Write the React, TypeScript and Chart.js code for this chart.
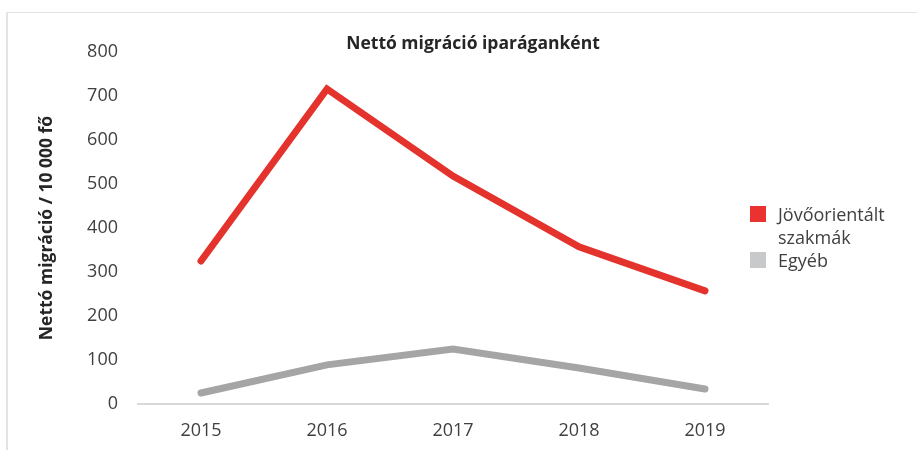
import React, { useEffect, useRef } from "react";
import { Chart, registerables } from "chart.js";

Chart.register(...registerables);

const TITLE = "Nettó migráció iparáganként";
const Y_TITLE = "Nettó migráció / 10 000 fő";
const YEARS = ["2015", "2016", "2017", "2018", "2019"];
const SERIES_NAMES = ["Jövőorientált szakmák", "Egyéb"];
const FUTURE = [325, 716, 518, 357, 257];
const OTHER = [25, 89, 125, 82, 34];
const LINE_COLORS = ["#e4322c", "#a5a5a5"];
const SWATCH_COLORS = ["#ea3331", "#c8c9cb"];

const FONT = "'Open Sans', 'DejaVu Sans', sans-serif";

export default function App() {
  const ref = useRef<HTMLCanvasElement | null>(null);

  useEffect(() => {
    if (!ref.current) return;
    const chart = new Chart(ref.current, {
      type: "line",
      data: {
        labels: YEARS,
        datasets: [
          {
            label: SERIES_NAMES[0],
            data: FUTURE,
            borderColor: LINE_COLORS[0],
            backgroundColor: LINE_COLORS[0],
            borderWidth: 7,
            borderCapStyle: "round",
            borderJoinStyle: "miter",
            pointRadius: 0,
            tension: 0,
          },
          {
            label: SERIES_NAMES[1],
            data: OTHER,
            borderColor: LINE_COLORS[1],
            backgroundColor: LINE_COLORS[1],
            borderWidth: 7,
            borderCapStyle: "round",
            borderJoinStyle: "miter",
            pointRadius: 0,
            tension: 0,
          },
        ],
      },
      options: {
        responsive: false,
        animation: false,
        layout: { padding: { left: 30, right: 149, top: 52, bottom: 10 } },
        plugins: {
          legend: { display: false },
          title: { display: false },
          tooltip: { enabled: false },
        },
        scales: {
          x: {
            offset: true,
            grid: { display: false, drawTicks: false },
            border: { display: true, color: "#d9d9d9", width: 2 },
            ticks: {
              padding: 16,
              color: "#404040",
              font: { family: FONT, size: 18 },
            },
            afterFit: (scale: any) => {
              scale.height = 36;
            },
          },
          y: {
            min: 0,
            max: 800,
            grid: { display: false, drawTicks: false },
            border: { display: false },
            ticks: {
              stepSize: 100,
              padding: 20,
              color: "#404040",
              font: { family: FONT, size: 18 },
            },
            title: {
              display: true,
              text: Y_TITLE,
              color: "#262626",
              padding: { top: 7, bottom: 0 },
              font: { family: FONT, size: 17.5, weight: "bold" },
            },
            afterFit: (scale: any) => {
              scale.width = 108;
            },
          },
        },
      },
    });
    return () => chart.destroy();
  }, []);

  const legendRow = (i: number, lines: string[], top: number) => (
    <div
      key={i}
      style={{
        position: "absolute",
        left: 750,
        top,
        display: "flex",
        alignItems: "flex-start",
      }}
    >
      <div
        style={{
          width: 16,
          height: 16,
          background: SWATCH_COLORS[i],
          marginTop: 3,
          marginRight: 12,
          flexShrink: 0,
        }}
      />
      <div style={{ lineHeight: "23px", fontSize: 18, color: "#404040" }}>
        {lines.map((l, k) => (
          <div key={k}>{l}</div>
        ))}
      </div>
    </div>
  );

  return (
    <div
      style={{
        position: "absolute",
        left: 0,
        top: 0,
        width: 917,
        height: 450,
        background: "#ffffff",
        fontFamily: FONT,
        overflow: "hidden",
      }}
    >
      <div
        style={{
          position: "absolute",
          left: 6,
          top: 12,
          width: 920,
          height: 450,
          borderLeft: "2px solid #e3e3e3",
          borderTop: "1px solid #e3e3e3",
        }}
      />
      <canvas ref={ref} width={917} height={450} style={{ position: "absolute", left: 0, top: 0 }} />
      <div
        style={{
          position: "absolute",
          left: 273,
          width: 400,
          top: 29,
          textAlign: "center",
          fontWeight: "bold",
          fontSize: 17.5,
          lineHeight: "26px",
          color: "#262626",
        }}
      >
        {TITLE}
      </div>
      {legendRow(0, SERIES_NAMES[0].split(" "), 203)}
      {legendRow(1, [SERIES_NAMES[1]], 249)}
    </div>
  );
}
